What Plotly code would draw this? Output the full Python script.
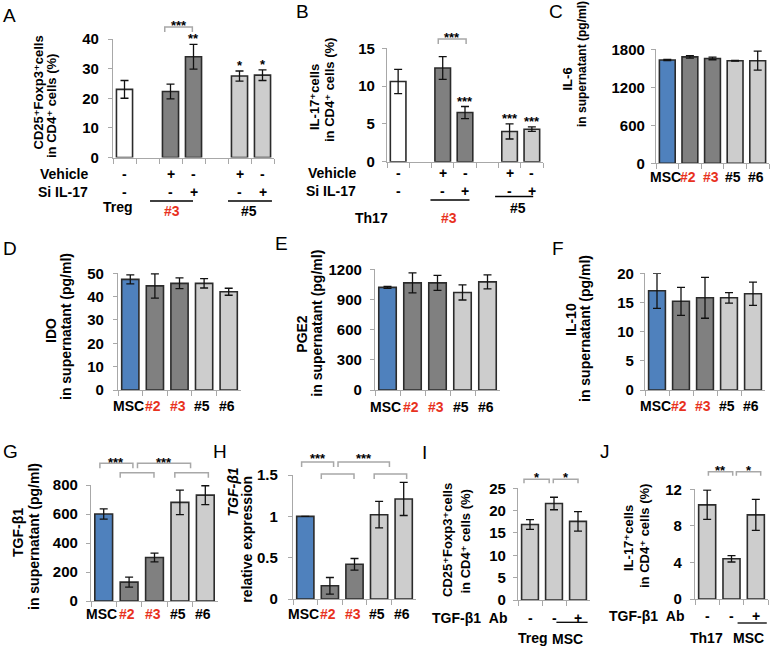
import plotly.graph_objects as go

W, H = 773, 646

# ---------------- data ----------------
A_categories = ["Treg", "gap A1", "#3 Vehicle", "#3 Si IL-17", "gap A2", "#5 Vehicle", "#5 Si IL-17"]
A_values = [23.0, None, 22.3, 34.0, None, 27.5, 27.8]
A_errors = [3.0, 0, 2.5, 4.2, 0, 1.7, 1.8]
A_vehicle = ["-", "", "+", "-", "", "+", "-"]
A_si = ["-", "", "-", "+", "", "-", "+"]
A_stars = ["", "", "", "**", "", "*", "*"]
A_yticks = [0, 10, 20, 30, 40]

B_categories = ["Th17", "gap B1", "#3 Vehicle", "#3 Si IL-17", "gap B2", "#5 Vehicle", "#5 Si IL-17"]
B_values = [10.6, None, 12.4, 6.5, None, 4.0, 4.3]
B_errors = [1.6, 0, 1.5, 0.8, 0, 1.0, 0.3]
B_vehicle = ["-", "", "+", "-", "", "+", "-"]
B_si = ["-", "", "-", "+", "", "-", "+"]
B_stars = ["", "", "", "***", "", "***", "***"]
B_yticks = [0, 5, 10, 15]

MSC_categories = ["MSC", "#2", "#3", "#5", "#6"]

C_values = [1630, 1680, 1655, 1620, 1620]      # IL-6
C_errors = [10, 20, 20, 5, 150]
C_yticks = [0, 600, 1200, 1800]

D_values = [47.4, 44.6, 45.7, 45.7, 42.1]       # IDO
D_errors = [1.9, 5.2, 2.3, 2.0, 1.5]
D_yticks = [0, 10, 20, 30, 40, 50]

E_values = [1020, 1065, 1065, 970, 1075]        # PGE2
E_errors = [10, 100, 75, 75, 70]
E_yticks = [0, 300, 600, 900, 1200]

F_values = [17.0, 15.2, 15.8, 15.8, 16.5]       # IL-10
F_errors = [3.0, 2.4, 3.5, 0.9, 2.0]
F_yticks = [0, 5, 10, 15, 20]

G_values = [600, 130, 300, 680, 730]            # TGF-b1 supernatant
G_errors = [35, 35, 30, 85, 65]
G_yticks = [0, 200, 400, 600, 800]

H_values = [1.0, 0.16, 0.42, 1.02, 1.21]        # TGF-b1 relative expression
H_errors = [0, 0.1, 0.07, 0.16, 0.2]
H_yticks = [0, 0.5, 1, 1.5]
H_yticklabels = ["0", "0.5", "1", "1.5"]

I_categories = ["Treg", "MSC", "MSC + TGF-β1 Ab"]
I_values = [16.9, 21.6, 17.6]
I_errors = [1.1, 1.4, 2.2]
I_ab = ["-", "-", "+"]
I_yticks = [0, 5, 10, 15, 20, 25]

J_categories = ["Th17", "MSC", "MSC + TGF-β1 Ab"]
J_values = [10.3, 4.4, 9.2]
J_errors = [1.6, 0.35, 1.7]
J_ab = ["-", "-", "+"]
J_yticks = [0, 4, 8, 12]

# ---------------- style ----------------
FONT = "Liberation Sans, Arial, DejaVu Sans, sans-serif"
BLUE = "#4f81bd"
DARK = "#808080"
LIGHT = "#cdcdcd"
WHITE = "#ffffff"
RED = "#e8321e"
AXIS = "#a8a8a8"
EDGE = "#2b2b2b"
BRACKET = "#a8a8a8"
MSC_colors = [BLUE, DARK, DARK, LIGHT, LIGHT]
MSC_label_colors = ["black", RED, RED, "black", "black"]

# pixel geometry of each plot area (left, right, top(=max tick), bottom(=0))
GEOM = {
    "A": dict(x0=113, x1=274, ytop=39, ybot=157.5, stand=6),
    "B": dict(x0=387, x1=543, ytop=48.3, ybot=161.7, stand=4),
    "C": dict(x0=656, x1=769, ytop=49.3, ybot=163.3, stand=3),
    "D": dict(x0=118, x1=241, ytop=273.3, ybot=390, stand=6),
    "E": dict(x0=375, x1=500, ytop=269.3, ybot=390, stand=5),
    "F": dict(x0=645, x1=765, ytop=273.3, ybot=390, stand=3),
    "G": dict(x0=91, x1=218, ytop=485, ybot=601, stand=5),
    "H": dict(x0=293, x1=416, ytop=475, ybot=599, stand=7),
    "I": dict(x0=518, x1=590, ytop=488.3, ybot=600, stand=4),
    "J": dict(x0=695, x1=768, ytop=489.3, ybot=599, stand=5),
}

panels = [
    dict(key="A", cats=A_categories, vals=A_values, errs=A_errors,
         colors=[WHITE, WHITE, DARK, DARK, WHITE, LIGHT, LIGHT], ticks=A_yticks, stars=A_stars),
    dict(key="B", cats=B_categories, vals=B_values, errs=B_errors,
         colors=[WHITE, WHITE, DARK, DARK, WHITE, LIGHT, LIGHT], ticks=B_yticks, stars=B_stars),
    dict(key="C", cats=MSC_categories, vals=C_values, errs=C_errors, colors=MSC_colors, ticks=C_yticks),
    dict(key="D", cats=MSC_categories, vals=D_values, errs=D_errors, colors=MSC_colors, ticks=D_yticks),
    dict(key="E", cats=MSC_categories, vals=E_values, errs=E_errors, colors=MSC_colors, ticks=E_yticks),
    dict(key="F", cats=MSC_categories, vals=F_values, errs=F_errors, colors=MSC_colors, ticks=F_yticks),
    dict(key="G", cats=MSC_categories, vals=G_values, errs=G_errors, colors=MSC_colors, ticks=G_yticks),
    dict(key="H", cats=MSC_categories, vals=H_values, errs=H_errors, colors=MSC_colors, ticks=H_yticks,
         ticklabels=H_yticklabels),
    dict(key="I", cats=I_categories, vals=I_values, errs=I_errors, colors=[LIGHT] * 3, ticks=I_yticks),
    dict(key="J", cats=J_categories, vals=J_values, errs=J_errors, colors=[LIGHT] * 3, ticks=J_yticks),
]

fig = go.Figure()
annotations = []
shapes = []
axis_ids = {}


def px(x):
    return x / W


def py(y):
    return 1 - y / H


def cat_px(key, idx, n):
    g = GEOM[key]
    return g["x0"] + (idx + 0.5) * (g["x1"] - g["x0"]) / n


def fnt(size, color="black", bold=True, italic=False):
    return dict(family=FONT, size=size, color=color, weight="bold" if bold else "normal",
                style="italic" if italic else "normal")


def text(t, x, y, size=14, color="black", bold=True, xanchor="center", yanchor="middle",
         angle=0, italic=False):
    annotations.append(dict(
        text=t, x=px(x), y=py(y), xref="paper", yref="paper",
        showarrow=False, xanchor=xanchor, yanchor=yanchor, textangle=angle,
        font=fnt(size, color, bold, italic)))


def cat_text(t, xa, c, y, size=14, color="black", xshift=0):
    annotations.append(dict(text=t, x=c, y=py(y), xref=xa, yref="paper", showarrow=False,
                            xanchor="center", yanchor="middle", xshift=xshift,
                            font=fnt(size, color)))


def hline(x0, x1, y, color="black", width=1.3):
    shapes.append(dict(type="line", xref="paper", yref="paper", x0=px(x0), x1=px(x1),
                       y0=py(y), y1=py(y), line=dict(color=color, width=width)))


def bracket(key, n, i0, i1, ytop, drop=5):
    a = cat_px(key, i0, n)
    b = cat_px(key, i1, n)
    path = (f"M {px(a)},{py(ytop + drop)} L {px(a)},{py(ytop)} "
            f"L {px(b)},{py(ytop)} L {px(b)},{py(ytop + drop)}")
    shapes.append(dict(type="path", xref="paper", yref="paper", path=path,
                       line=dict(color=BRACKET, width=1.5)))


for i, p in enumerate(panels, start=1):
    g = GEOM[p["key"]]
    xa = "x" if i == 1 else f"x{i}"
    ya = "y" if i == 1 else f"y{i}"
    axis_ids[p["key"]] = (xa, ya)
    fig.add_trace(go.Bar(
        x=p["cats"], y=p["vals"], width=0.7, xaxis=xa, yaxis=ya, cliponaxis=False,
        marker=dict(color=p["colors"], line=dict(color=EDGE, width=1.6)),
        error_y=dict(type="data", array=p["errs"], visible=True, color="#111111", thickness=1.3, width=4),
        showlegend=False, hoverinfo="skip"))
    sfx = "" if i == 1 else str(i)
    fig.layout[f"xaxis{sfx}"] = dict(
        domain=[px(g["x0"]), px(g["x1"])], anchor=ya, type="category", automargin=False,
        categoryorder="array", categoryarray=p["cats"], range=[-0.5, len(p["cats"]) - 0.5],
        showline=True, linecolor=AXIS, linewidth=1.3, ticks="outside", tickson="boundaries",
        ticklen=5, tickcolor=AXIS, tickwidth=1.3, showticklabels=False, showgrid=False,
        zeroline=False, fixedrange=True)
    fig.layout[f"yaxis{sfx}"] = dict(
        domain=[py(g["ybot"]), py(g["ytop"])], anchor=xa, range=[0, p["ticks"][-1]],
        automargin=False, tickmode="array", tickvals=p["ticks"],
        ticktext=p.get("ticklabels", [str(t) for t in p["ticks"]]),
        showline=True, linecolor=AXIS, linewidth=1.3, ticks="outside", ticklen=4,
        tickcolor=AXIS, tickwidth=1.3, ticklabelstandoff=g["stand"],
        tickfont=fnt(15), showgrid=False, zeroline=False, fixedrange=True)
    # significance stars over bars
    for c, v, e, s in zip(p["cats"], p["vals"], p["errs"], p.get("stars", [""] * len(p["cats"]))):
        if s and v is not None:
            annotations.append(dict(text=s, x=c, y=v + e, xref=xa, yref=ya, showarrow=False,
                                    xanchor="center", yanchor="bottom", yshift=-4, font=fnt(13)))

# ---------- panel letters ----------
for letter, (lx, ly) in {"A": (9.5, 15), "B": (302.5, 12), "C": (556, 12), "D": (10, 248.5),
                         "E": (281, 244), "F": (558, 248), "G": (10, 451.5), "H": (220, 451.5),
                         "I": (424.5, 452), "J": (605, 451.5)}.items():
    text(letter, lx, ly, size=19, bold=False)

# ---------- y-axis titles ----------
ylabels = [
    ("CD25⁺Foxp3⁺cells", 37.5, 93, 13), ("in CD4⁺ cells (%)", 51, 106, 13),
    ("IL-17⁺cells", 315, 97, 13), ("in CD4⁺ cells (%)", 329, 90, 13),
    ("IL-6", 567.5, 79, 13), ("in supernatant (pg/ml)", 582, 64, 12),
    ("IDO", 51, 331, 14), ("in supernatant (pg/ml)", 66, 327, 14),
    ("PGE2", 301.7, 334, 14), ("in supernatant (pg/ml)", 316.7, 323, 14),
    ("IL-10", 571, 320, 14), ("in supernatant (pg/ml)", 585, 329, 14),
    ("TGF-β1", 18, 533, 14), ("in supernatant (pg/ml)", 34, 537, 14),
    ("relative expression", 246.7, 539, 14),
    ("CD25⁺Foxp3⁺cells", 447, 540, 13), ("in CD4⁺ cells (%)", 465, 541.5, 13),
    ("IL-17⁺cells", 628, 538, 13), ("in CD4⁺ cells (%)", 644, 536, 13),
]
for t, lx, ly, sz in ylabels:
    text(t, lx, ly, size=sz, angle=-90)
text("TGF-β1", 232.5, 492, size=14, angle=-90, italic=True)

# ---------- x category labels (C-H) ----------
label_y = {"C": 177, "D": 406, "E": 407, "F": 406, "G": 614, "H": 614}
for key, ly in label_y.items():
    xa, _ = axis_ids[key]
    for c, col in zip(MSC_categories, MSC_label_colors):
        cat_text(c, xa, c, ly, size=14, color=col, xshift=-2)

# ---------- A / B treatment rows ----------
for key, cats, veh, si, rowx, vy, sy in [("A", A_categories, A_vehicle, A_si, 90, 174, 192),
                                         ("B", B_categories, B_vehicle, B_si, 358, 173, 191)]:
    xa, _ = axis_ids[key]
    text("Vehicle", rowx, vy, size=14, xanchor="right")
    text("Si IL-17", rowx, sy, size=14, xanchor="right")
    for c, v, s in zip(cats, veh, si):
        if v:
            cat_text(v, xa, c, vy, size=14)
        if s:
            cat_text(s, xa, c, sy, size=14)

text("Treg", 118.5, 207.5, size=14)
text("#3", 171.7, 210.5, size=14, color=RED)
text("#5", 248.5, 210.5, size=14)
hline(cat_px("A", 1.11, 7), cat_px("A", 2.98, 7), 201)
hline(cat_px("A", 4.5, 7), cat_px("A", 6.41, 7), 201)

text("Th17", 371, 218, size=14)
text("#3", 449, 218, size=14, color=RED)
text("#5", 518, 208.5, size=14)
hline(cat_px("B", 1.45, 7), cat_px("B", 3.2, 7), 200)
hline(cat_px("B", 4.35, 7), cat_px("B", 6.06, 7), 196.5)

# ---------- I / J treatment rows ----------
for key, cats, ab, rowx, ry, ul, uy, names in [
        ("I", I_categories, I_ab, 469, 618, (1.6 / 3, 2.9 / 3), 622.3, [("Treg", 533, 638), ("MSC", 567, 639)]),
        ("J", J_categories, J_ab, 646, 616, (1.75 / 3, 2.95 / 3), 623, [("Th17", 706, 638), ("MSC", 748, 638)])]:
    xa, _ = axis_ids[key]
    text("TGF-β1  Ab", rowx, ry, size=14)
    for c, s in zip(cats, ab):
        cat_text(s, xa, c, ry, size=14)
    g = GEOM[key]
    hline(g["x0"] + ul[0] * (g["x1"] - g["x0"]), g["x0"] + ul[1] * (g["x1"] - g["x0"]), uy)
    for t, tx, ty in names:
        text(t, tx, ty, size=14)

# ---------- significance brackets ----------
bracket("A", 7, 1.75, 2.95, 27)
text("***", cat_px("A", 2.35, 7), 25, size=13)
bracket("B", 7, 1.8, 3.05, 39)
text("***", cat_px("B", 2.42, 7), 37, size=13)
for key, up_y, low_y, ty in [("G", 463.3, 472.7, 462), ("H", 462, 474, 458)]:
    bracket(key, 5, -0.15, 1.15, up_y)
    bracket(key, 5, 1.33, 3.42, up_y)
    bracket(key, 5, 0.65, 1.98, low_y)
    bracket(key, 5, 2.8, 4.12, low_y)
    text("***", cat_px(key, 0.5, 5), ty, size=13)
    text("***", cat_px(key, 2.38, 5), ty, size=13)
bracket("I", 3, -0.25, 0.8, 479.3, drop=4)
bracket("I", 3, 0.97, 2.0, 479.3, drop=4)
text("*", cat_px("I", 0.28, 3), 477, size=13)
text("*", cat_px("I", 1.48, 3), 477, size=13)
bracket("J", 3, 0.05, 1.05, 471.7, drop=4)
bracket("J", 3, 1.2, 2.2, 471.7, drop=4)
text("**", cat_px("J", 0.55, 3), 470, size=13)
text("*", cat_px("J", 1.7, 3), 470, size=13)

fig.update_layout(width=W, height=H, margin=dict(l=0, r=0, t=0, b=0, autoexpand=False),
                  paper_bgcolor="white", plot_bgcolor="white", showlegend=False,
                  hovermode=False, annotations=annotations, shapes=shapes,
                  font=dict(family=FONT))

fig.write_html("out.html", config={"displayModeBar": False},
               post_script="document.body.style.margin='0';document.body.style.padding='0';"
                           "document.body.style.overflow='hidden';"
                           "document.documentElement.style.overflow='hidden';")
